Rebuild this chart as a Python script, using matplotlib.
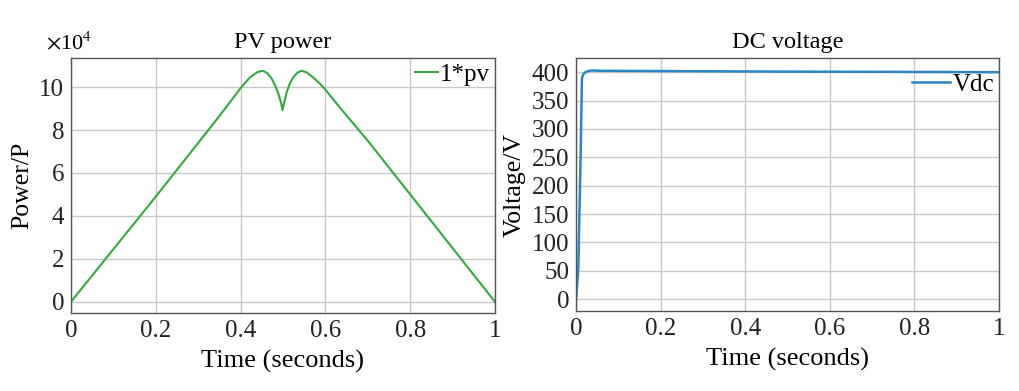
import numpy as np
import matplotlib.pyplot as plt

# PV power (x1e4)
t_pv = [0, 0.1, 0.2, 0.3, 0.35, 0.4, 0.422, 0.44, 0.452, 0.463, 0.473, 0.482, 0.489,
        0.495, 0.499, 0.503, 0.509, 0.516, 0.524, 0.534, 0.544, 0.556, 0.571, 0.585,
        0.599, 0.634, 0.7, 0.8, 0.9, 1.0]
p_pv = [0, 2.45, 4.9, 7.4, 8.65, 9.95, 10.45, 10.7, 10.76, 10.65, 10.4, 10.05, 9.7,
        9.3, 8.93, 9.3, 9.78, 10.15, 10.45, 10.67, 10.76, 10.68, 10.45, 10.2,
        9.9, 9.05, 7.5, 5.0, 2.5, 0]

# DC voltage
t_dc = [0, 0.0055, 0.011, 0.014, 0.017, 0.021, 0.028, 0.037, 0.06, 0.2, 0.5, 0.8, 1.0]
v_dc = [-2, 55, 254, 389, 396, 399.5, 402, 403, 402.5, 402, 401, 400.5, 400]

xticks = [0, 0.2, 0.4, 0.6, 0.8, 1]
xticklabels = ["0", "0.2", "0.4", "0.6", "0.8", "1"]

plt.rcParams["font.family"] = ["Liberation Serif", "DejaVu Serif"]
plt.rcParams["mathtext.fontset"] = "stix"

fig = plt.figure(figsize=(10.2, 3.91), dpi=100)
ax1 = fig.add_axes([0.0696, 0.1995, 0.4157, 0.652])
ax2 = fig.add_axes([0.5647, 0.2046, 0.4147, 0.647])

for ax in (ax1, ax2):
    ax.set_xlim(0, 1)
    ax.set_xticks(xticks)
    ax.set_xticklabels(xticklabels)
    ax.grid(True, color="#c8c8c8", linewidth=1.0)
    ax.set_axisbelow(True)
    ax.tick_params(length=0, pad=5, labelsize=18, colors="#222222")
    for s in ax.spines.values():
        s.set_color("#555555")
        s.set_linewidth(1.0)
    ax.set_xlabel("Time (seconds)", fontsize=19, labelpad=6)

ax1.plot(t_pv, p_pv, color="#35a843", linewidth=1.5, label="1*pv")
ax1.set_ylim(-0.52, 11.35)
ax1.set_yticks([0, 2, 4, 6, 8, 10])
ax1.set_ylabel("Power/P", fontsize=18.5)
ax1.yaxis.set_label_coords(-0.09, 0.5)
ax1.set_title("PV power", fontsize=17.5, pad=7)
ax1.text(-0.06, 1.015, r"$\times$10$^4$", transform=ax1.transAxes, fontsize=16,
         ha="left", va="bottom")
ax1.legend(loc="upper right", frameon=False, handlelength=0.9, handletextpad=0.1,
           borderaxespad=0.1, borderpad=0.1, bbox_to_anchor=(1.0, 1.0), fontsize=18)

ax2.plot(t_dc, v_dc, color="#2b86c2", linewidth=1.8, label="Vdc")
ax2.set_ylim(-21, 425)
ax2.set_yticks(np.arange(0, 401, 50))
ax2.set_ylabel("Voltage/V", fontsize=18.5)
ax2.yaxis.set_label_coords(-0.12, 0.5)
ax2.set_title("DC voltage", fontsize=17.5, pad=7)
ax2.legend(loc="upper right", frameon=False, handlelength=1.5, handletextpad=0.1,
           borderaxespad=0.1, borderpad=0.1, bbox_to_anchor=(1.0, 0.96), fontsize=18)

fig.savefig("out.png", dpi=100)
